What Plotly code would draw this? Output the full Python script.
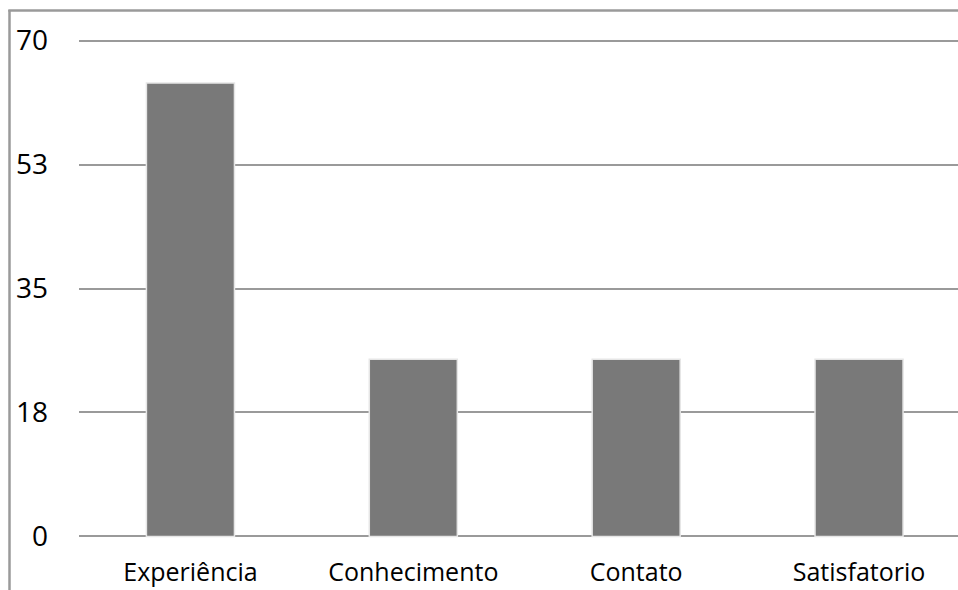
import plotly.graph_objects as go

# Category labels and counts
categories = ["Experiência", "Conhecimento", "Contato", "Satisfatorio"]
values = [64, 25, 25, 25]

# Y-axis ticks (shown rounded)
y_tickvals = [0, 17.5, 35, 52.5, 70]
y_ticktext = ["0", "18", "35", "53", "70"]

W, H = 958, 590
Y_LO, Y_HI = -0.5, 70.5
unit = 495 / 70.0          # pixels per value unit
ML, MR = 79, 0
MT = 41 - (Y_HI - 70) * unit
MB = 54 - (0 - Y_LO) * unit
plot_w = W - ML - MR
plot_h = H - MT - MB

fig = go.Figure(
    go.Bar(
        x=list(range(len(categories))),
        y=values,
        width=0.395,
        marker=dict(color="#797979", line=dict(color="#e6e6e6", width=1.5)),
        hoverinfo="x+y",
    )
)


def px_x(px):
    return (px - ML) / plot_w


def px_y(py):
    return (H - MB - py) / plot_h


frame_color = "#9a9a9a"
# Outer frame: left edge and top edge
fig.add_shape(type="line", xref="paper", yref="paper",
              x0=px_x(9.5), x1=px_x(9.5), y0=px_y(10.5), y1=px_y(600),
              line=dict(color=frame_color, width=2.5))
fig.add_shape(type="line", xref="paper", yref="paper",
              x0=px_x(8.3), x1=px_x(970), y0=px_y(11), y1=px_y(11),
              line=dict(color=frame_color, width=2.5))

fig.update_layout(
    width=W, height=H,
    margin=dict(l=ML, r=MR, t=MT, b=MB, autoexpand=False),
    paper_bgcolor="white",
    plot_bgcolor="white",
    showlegend=False,
    font=dict(family="Open Sans", color="#000000"),
    bargap=0.6,
)

fig.update_xaxes(
    range=[-0.5, 3.444],
    tickvals=list(range(len(categories))),
    ticktext=categories,
    tickfont=dict(size=25, family="Open Sans", color="#000000"),
    showgrid=False, zeroline=False, showline=False,
    ticks="", ticklabelstandoff=15,
    fixedrange=True,
)

fig.update_yaxes(
    range=[Y_LO, Y_HI],
    tickvals=y_tickvals,
    ticktext=y_ticktext,
    tickfont=dict(size=28, family="Open Sans", color="#000000"),
    showgrid=True, gridcolor="#9a9a9a", gridwidth=2.2,
    zeroline=False, showline=False,
    ticks="", ticklabelstandoff=30,
    fixedrange=True,
)

fig.write_html("out.html")
